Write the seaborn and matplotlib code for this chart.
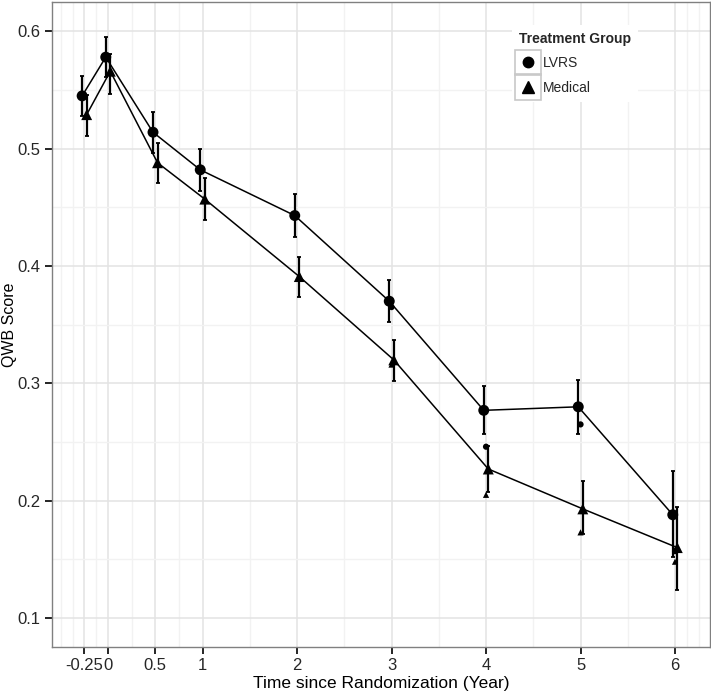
import matplotlib
matplotlib.use('Agg')
import matplotlib.pyplot as plt
import seaborn as sns
import pandas as pd
import numpy as np
from matplotlib.patches import Rectangle
from matplotlib.lines import Line2D
from matplotlib.ticker import FixedLocator

times = [-0.25, 0, 0.5, 1, 2, 3, 4, 5, 6]
time_labels = ['-0.25', '0', '0.5', '1', '2', '3', '4', '5', '6']

lvrs_mean = [0.545, 0.578, 0.514, 0.482, 0.443, 0.370, 0.277, 0.280, 0.188]
lvrs_lo = [0.528, 0.561, 0.496, 0.464, 0.425, 0.352, 0.257, 0.257, 0.152]
lvrs_hi = [0.562, 0.595, 0.531, 0.500, 0.461, 0.388, 0.298, 0.303, 0.225]

med_mean = [0.529, 0.566, 0.488, 0.457, 0.391, 0.320, 0.227, 0.193, 0.160]
med_lo = [0.511, 0.547, 0.471, 0.439, 0.374, 0.302, 0.207, 0.172, 0.124]
med_hi = [0.546, 0.581, 0.505, 0.475, 0.408, 0.337, 0.247, 0.217, 0.195]

# small (observed) points
obs_times = [3, 4, 5, 6]
lvrs_obs = [0.365, 0.246, 0.265, 0.157]
med_obs = [0.316, 0.205, 0.173, 0.148]

groups = ['LVRS', 'Medical']
dodge = {'LVRS': -0.024, 'Medical': 0.024}
marker_map = {'LVRS': 'o', 'Medical': '^'}

df = pd.concat([
    pd.DataFrame({'time': times, 'score': lvrs_mean, 'lo': lvrs_lo, 'hi': lvrs_hi, 'group': 'LVRS'}),
    pd.DataFrame({'time': times, 'score': med_mean, 'lo': med_lo, 'hi': med_hi, 'group': 'Medical'}),
], ignore_index=True)
df['xd'] = df['time'] + df['group'].map(dodge)

obs = pd.concat([
    pd.DataFrame({'time': obs_times, 'score': lvrs_obs, 'group': 'LVRS'}),
    pd.DataFrame({'time': obs_times, 'score': med_obs, 'group': 'Medical'}),
], ignore_index=True)

sns.set_theme(style='white')
plt.rcParams['font.family'] = ['Liberation Sans', 'DejaVu Sans']
narrow = ['Liberation Sans Narrow', 'Liberation Sans', 'DejaVu Sans']

W, H = 711, 692
fig = plt.figure(figsize=(W / 100, H / 100), dpi=100)
ax = fig.add_axes([51.7 / W, 1 - 647 / H, (710 - 51.7) / W, (647 - 2) / H])

for g in groups:
    d = df[df['group'] == g]
    ax.errorbar(d['xd'], d['score'], yerr=[d['score'] - d['lo'], d['hi'] - d['score']],
                fmt='none', ecolor='black', elinewidth=1.6, capsize=1.6, capthick=1.3, zorder=3)

sns.lineplot(data=df, x='xd', y='score', units='group', estimator=None, sort=True,
             color='black', linewidth=1.1, legend=False, ax=ax, zorder=2)
sns.scatterplot(data=df, x='xd', y='score', style='group', markers=marker_map,
                color='black', edgecolor='black', s=62, linewidth=0, legend=False, ax=ax, zorder=4)
sns.scatterplot(data=obs, x='time', y='score', style='group', markers=marker_map,
                color='black', edgecolor='black', s=20, linewidth=0, legend=False, ax=ax, zorder=4)

ax.set_xlim(-0.596, 6.37)
ax.set_ylim(0.0753, 0.625)
ax.set_xticks(times)
ax.set_xticklabels(time_labels, family=narrow)
ax.set_yticks([0.1, 0.2, 0.3, 0.4, 0.5, 0.6])
ax.set_yticklabels(['0.1', '0.2', '0.3', '0.4', '0.5', '0.6'], family=narrow)
ax.xaxis.set_minor_locator(FixedLocator([-0.5, -0.375, -0.125, 0.25, 0.75, 1.5, 2.5, 3.5, 4.5, 5.5, 6.125, 6.25]))
ax.yaxis.set_minor_locator(FixedLocator([0.15, 0.25, 0.35, 0.45, 0.55]))
ax.grid(which='major', color='#e3e3e3', linewidth=1.1, zorder=0)
ax.grid(which='minor', color='#f2f2f2', linewidth=1.0, zorder=0)
ax.set_axisbelow(True)
ax.tick_params(which='major', direction='out', length=5, width=1.2, color='black',
               labelsize=12, labelcolor='#262626', pad=3, bottom=True, left=True)
ax.tick_params(which='minor', length=0)
for s in ax.spines.values():
    s.set_color('#808080')
    s.set_linewidth(1.0)

ax.set_xlabel('Time since Randomization (Year)', fontsize=12.5, labelpad=2, color='black')
ax.set_ylabel('QWB Score', fontsize=11.5, color='black')
ax.yaxis.set_label_coords((17 - 51.7) / (710 - 51.7), 0.5)

# legend
handles = [Line2D([], [], linestyle='none', marker=marker_map[g], color='black',
                  markersize=7.5 if g == 'LVRS' else 8.5) for g in groups]
leg = ax.legend(handles, groups, title='Treatment Group', loc='upper left',
                bbox_to_anchor=(512 / W, 1 - 25 / H), bbox_transform=fig.transFigure,
                frameon=True, facecolor='white', edgecolor='none', framealpha=1,
                fontsize=10, title_fontsize=10, handlelength=1.3, handletextpad=0.45,
                labelspacing=0.75, borderpad=0.5, borderaxespad=0, fancybox=False)
leg.get_title().set_fontweight('bold')
leg._legend_box.align = 'left'
leg.set_zorder(10)

fig.canvas.draw()
for h in leg.legend_handles:
    bb = h.get_window_extent(fig.canvas.get_renderer())
    cx, cy = (bb.x0 + bb.x1) / 2, (bb.y0 + bb.y1) / 2
    rect = Rectangle((cx - 12.8, cy - 12.8), 25.6, 25.6, transform=None,
                     facecolor='none', edgecolor='#c8c8c8', linewidth=1.2, zorder=11)
    fig.add_artist(rect)

fig.savefig('out.png', dpi=100)
